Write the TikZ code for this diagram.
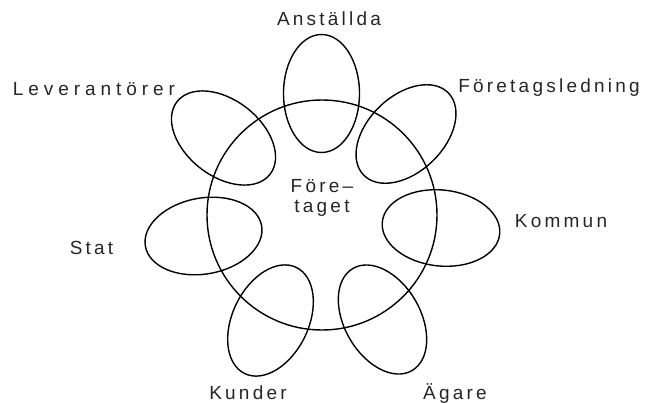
\documentclass[tikz,border=0pt]{standalone}
\usepackage{fontspec}
\setmainfont{Liberation Sans}[LetterSpace=17]
\newfontfamily\widelbl{Liberation Sans}[LetterSpace=26]
\begin{document}
\begin{tikzpicture}[x=1pt,y=-1pt,
  petal/.style={draw=black,line width=1.4pt},
  lbl/.style={font=\fontsize{19}{20}\selectfont,anchor=base,inner sep=0pt,text=black!85}]
\useasboundingbox (0,0) rectangle (645,402);
% central circle
\coordinate (C) at (322,215);
\draw[petal] (C) circle [radius=115pt];
% petals: centre, radial angle
\foreach \cx/\cy/\ang in {321.5/93.5/90, 406/134/44, 441/228/-6, 382.5/319.5/-60, 270.5/320.5/-116, 203.5/236/190, 223.5/138/142}{
  \draw[petal,rotate around={\ang:(\cx,\cy)}] (\cx,\cy) ellipse [x radius=59pt, y radius=38pt];
}
% labels
\node[lbl] (anst) at (329,25) {Anställda};
\node[lbl] (fled) at (549,92) {Företagsledning};
\node[lbl] (komm) at (561,227) {Kommun};
\node[lbl] (agar) at (455,399) {Ägare};
\node[lbl] (kund) at (248,399) {Kunder};
\node[lbl] (stat) at (91.5,254) {Stat};
\node[lbl,font=\fontsize{19}{20}\widelbl] (leve) at (94,95) {Leverantörer};
\node[lbl,align=center] (fore) at (322,212) {Före–\\taget};
\end{tikzpicture}
\end{document}
